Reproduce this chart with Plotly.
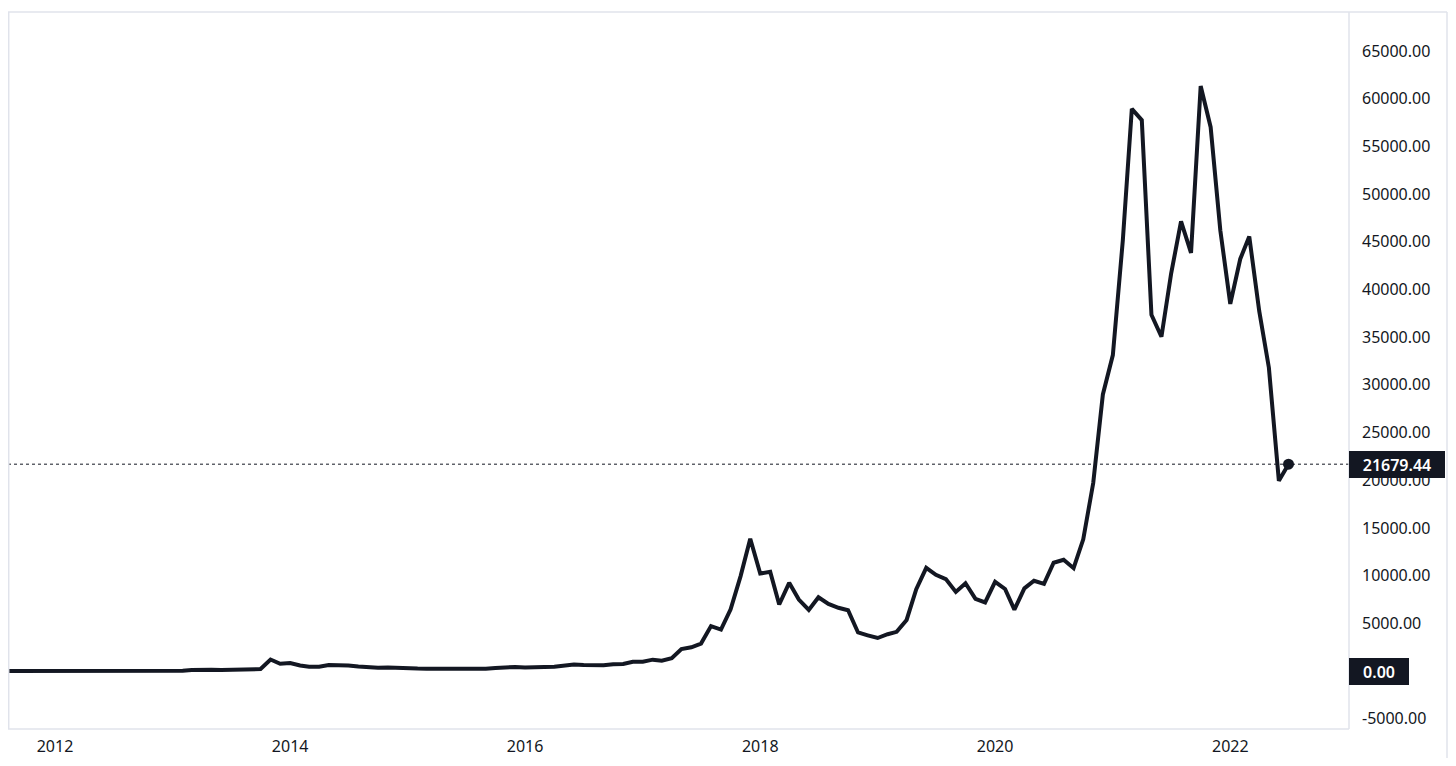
import plotly.graph_objects as go
import datetime as dt

# Monthly closing prices (USD)
start_year = 2011
start_month = 8
closes_2011 = [8.2, 5.1, 3.3, 3.0, 4.7]
closes_2012 = [5.5, 4.9, 4.9, 5.0, 5.2, 6.7, 9.4, 10.2, 12.4, 11.2, 12.6, 13.5]
closes_2013 = [20.4, 33.4, 93, 139, 129, 97, 106, 135, 133, 204, 1205, 754]
closes_2014 = [829, 573, 457, 447, 630, 640, 586, 478, 387, 338, 378, 320]
closes_2015 = [217, 254, 244, 236, 230, 263, 284, 230, 236, 314, 378, 430]
closes_2016 = [368, 437, 416, 448, 531, 673, 624, 573, 609, 700, 742, 963]
closes_2017 = [970, 1190, 1080, 1348, 2300, 2480, 2875, 4703, 4338, 6468, 9947, 13860]
closes_2018 = [10221, 10397, 6973, 9240, 7494, 6404, 7730, 7035, 6625, 6371, 4041, 3742]
closes_2019 = [3457, 3854, 4105, 5350, 8574, 10817, 10085, 9630, 8293, 9199, 7569, 7194]
closes_2020 = [9350, 8599, 6438, 8658, 9461, 9137, 11351, 11655, 10779, 13804, 19700, 28990]
closes_2021 = [33114, 45137, 58918, 57750, 37332, 35040, 41626, 47130, 43824, 61318, 57005, 46200]
closes_2022 = [38483, 43193, 45539, 37715, 31792, 19942, 21679.44]

last_price = 21679.44
y_ticks = [-5000, 5000, 10000, 15000, 20000, 25000, 30000, 35000, 40000,
           45000, 50000, 55000, 60000, 65000]
x_tick_years = [2012, 2014, 2016, 2018, 2020, 2022]

values = (closes_2011 + closes_2012 + closes_2013 + closes_2014 + closes_2015 +
          closes_2016 + closes_2017 + closes_2018 + closes_2019 + closes_2020 +
          closes_2021 + closes_2022)
dates = []
y, m = start_year, start_month
for _ in values:
    dates.append(dt.date(y, m, 1))
    m += 1
    if m > 12:
        m = 1
        y += 1

LINE = "#131722"
BORDER = "#e0e3eb"
FONT = "Noto Sans"

fig = go.Figure()
fig.add_trace(go.Scatter(
    x=dates, y=values, mode="lines",
    line=dict(color=LINE, width=4),
    hoverinfo="skip", showlegend=False,
))
fig.add_trace(go.Scatter(
    x=[dates[-1]], y=[values[-1]], mode="markers",
    marker=dict(color=LINE, size=11),
    hoverinfo="skip", showlegend=False,
))

# page has an 8px body margin; figure sized to fit the viewport exactly
OFF = 8
W, H = 1456 - 2 * OFF, 766 - 2 * OFF
PL, PR, PT, PB = 8, 1349, 12, 729  # plot area in page pixels
pw, ph = PR - PL, PB - PT


def px(xp):
    return (xp - PL) / pw


def py(yp):
    return (PB - yp) / ph


shapes = [
    dict(type="line", xref="paper", yref="y", x0=0, x1=1, y0=last_price, y1=last_price,
         line=dict(color=LINE, width=1, dash="dot"), layer="below"),
    dict(type="line", xref="paper", yref="paper", x0=px(8), x1=px(1447), y0=py(12), y1=py(12),
         line=dict(color=BORDER, width=1.5)),
    dict(type="line", xref="paper", yref="paper", x0=px(8.7), x1=px(8.7), y0=py(12), y1=py(729),
         line=dict(color=BORDER, width=1.5)),
    dict(type="line", xref="paper", yref="paper", x0=px(8), x1=px(1349), y0=py(729), y1=py(729),
         line=dict(color=BORDER, width=1.5)),
    dict(type="line", xref="paper", yref="paper", x0=px(1349), x1=px(1349), y0=py(12), y1=py(729),
         line=dict(color=BORDER, width=1.5)),
    dict(type="line", xref="paper", yref="paper", x0=px(1447), x1=px(1447), y0=py(12), y1=py(766),
         line=dict(color=BORDER, width=1.5)),
]

annotations = [
    dict(xref="paper", yref="y", x=1, y=last_price, xanchor="left", yanchor="middle",
         text=f"{last_price:.2f}", showarrow=False, bgcolor=LINE, borderwidth=0,
         borderpad=2, width=92, height=23, align="center",
         font=dict(family=FONT, size=16, color="#ffffff", weight=600)),
    dict(xref="paper", yref="y", x=1, y=0, xanchor="left", yanchor="middle",
         text="0.00", showarrow=False, bgcolor=LINE, borderwidth=0,
         borderpad=2, width=56, height=23, align="center",
         font=dict(family=FONT, size=16, color="#ffffff", weight=600)),
]

fig.update_layout(
    width=W, height=H,
    margin=dict(l=PL - OFF, r=W - (PR - OFF), t=PT - OFF, b=H - (PB - OFF), pad=0),
    paper_bgcolor="#ffffff", plot_bgcolor="#ffffff",
    font=dict(family=FONT, size=16, color="#131722"),
    shapes=shapes, annotations=annotations,
    xaxis=dict(
        type="date",
        range=["2011-08-08", "2023-01-05"],
        tickvals=[dt.date(yr, 1, 1) for yr in x_tick_years],
        ticktext=[str(yr) for yr in x_tick_years],
        showgrid=False, zeroline=False, showline=False, ticks="",
        ticklabelstandoff=6,
        tickfont=dict(family=FONT, size=16, color="#131722"),
    ),
    yaxis=dict(
        side="right",
        range=[-6080, 69080],
        tickvals=y_ticks,
        ticktext=[f"{v:.2f}" for v in y_ticks],
        showgrid=False, zeroline=False, showline=False, ticks="",
        ticklabelstandoff=12,
        tickfont=dict(family=FONT, size=16, color="#131722"),
    ),
)

fig.write_html("out.html")
